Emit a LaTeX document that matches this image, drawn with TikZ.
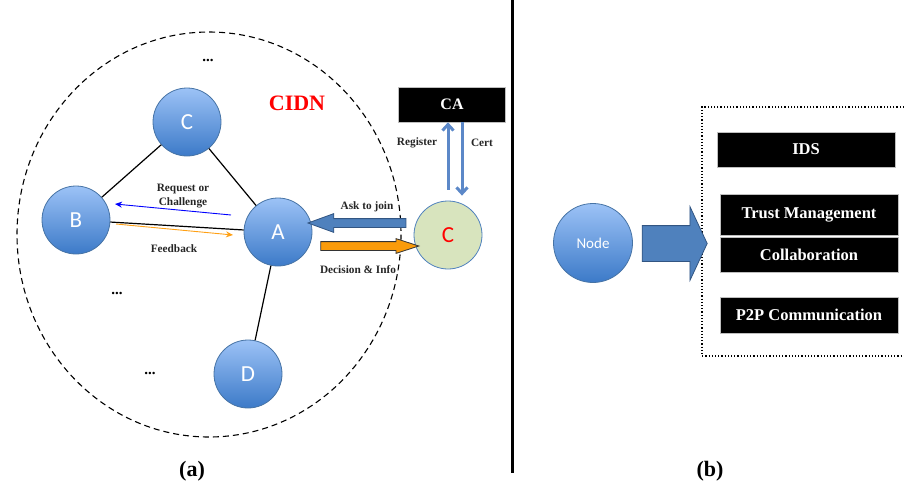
\documentclass[tikz,border=0pt]{standalone}
\usepackage{fontspec}
\setmainfont{Liberation Serif}
\newfontfamily\calibri{Carlito}
\usepackage{tikz}
\usetikzlibrary{shapes.arrows, arrows.meta, positioning, calc}
\definecolor{nodetop}{RGB}{156,194,246}
\definecolor{nodebot}{RGB}{60,122,200}
\definecolor{nodeedge}{RGB}{70,115,165}
\definecolor{joinfill}{RGB}{79,129,189}
\definecolor{joinedge}{RGB}{50,85,130}
\definecolor{infofill}{RGB}{250,155,10}
\definecolor{newfill}{RGB}{216,228,190}
\definecolor{caline}{RGB}{92,136,200}
\definecolor{fbline}{RGB}{255,160,20}
\tikzset{
  peer/.style={circle, minimum size=68pt, inner sep=0pt, draw=nodeedge,
    line width=0.8pt, top color=nodetop, bottom color=nodebot,
    text=white, font=\calibri\fontsize{23}{23}\selectfont},
  newpeer/.style={circle, minimum size=68pt, inner sep=0pt, draw=joinfill,
    line width=0.8pt, fill=newfill, text=red,
    font=\calibri\fontsize{23}{23}\selectfont},
  blackbox/.style={rectangle, fill=black, draw=gray!50, line width=0.6pt,
    text=white, font=\fontsize{16.5}{16.5}\selectfont\bfseries,
    minimum width=178pt, inner sep=0pt},
  lbl/.style={font=\fontsize{11.3}{14}\selectfont\bfseries, align=center,
    text=black!85},
  dots/.style={font=\fontsize{15}{15}\selectfont\bfseries},
  link/.style={line width=1.2pt},
  reqarrow/.style={-{Stealth[length=7pt,width=6pt]}, blue, line width=0.9pt},
  fbarrow/.style={-{Stealth[length=7pt,width=6pt]}, fbline, line width=0.9pt},
  caarrow/.style={-{Straight Barb[length=6pt,width=11pt]}, caline, line width=3pt},
  blockarrow/.style={single arrow, inner xsep=0pt, minimum width=0pt,
    single arrow head indent=0pt, line width=0.8pt}
}
\begin{document}
\begin{tikzpicture}[x=1pt, y=-1pt]
  \useasboundingbox (0,0) rectangle (904,488);

  % CIDN boundary
  \draw[line width=1.1pt, dash pattern=on 6pt off 4pt] (209,234.5) ellipse [x radius=192, y radius=202.5];
  \node[font=\fontsize{22}{22}\selectfont\bfseries, text=red] (cidn) at (297,103) {CIDN};

  % Peers inside the CIDN
  \node[peer] (C) at (187,122) {C};
  \node[peer] (B) at (76,220) {B};
  \node[peer] (A) at (278,232) {A};
  \node[peer] (D) at (248,374) {D};
  \node[dots] (dtop) at (208,60) {...};
  \node[dots] (dleft) at (117,293) {...};
  \node[dots] (dbot) at (150,373) {...};

  \draw[link] (C) -- (B);
  \draw[link] (C) -- (A);
  \draw[link] (B) -- (A);
  \draw[link] (A) -- (D);

  % Request and feedback between A and B
  \draw[reqarrow] ($(A)+(-47,-17)$) -- ($(B)+(39,-16)$);
  \draw[fbarrow] ($(B)+(40,4)$) -- ($(A)+(-45,3)$);
  \node[lbl] (reqlbl) at (183,196) {Request or\\Challenge};
  \node[lbl] (fblbl) at (174,249) {Feedback};

  % New node asking to join
  \node[newpeer] (N) at (448,235) {C};
  \node[blockarrow, shape border rotate=180, fill=joinfill, draw=joinedge,
    inner ysep=4pt, single arrow head extend=5pt, single arrow tip angle=40,
    minimum height=98pt] (ask) at ($(A)!0.5!(N)+(0,-10.5)$) {};
  \node[blockarrow, fill=infofill, draw=black!80,
    inner ysep=4pt, single arrow head extend=3pt, single arrow tip angle=36,
    minimum height=98pt] (info) at ($(A)!0.5!(N)+(0,12.5)$) {};
  \node[lbl] (asklbl) at (367,207) {Ask to join};
  \node[lbl] (infolbl) at (358,270) {Decision \& Info};

  % Certificate authority
  \node[blackbox, minimum width=107pt, minimum height=35pt,
    font=\fontsize{16}{16}\selectfont\bfseries] (CA) at (452,104.5) {CA};
  \draw[caarrow] ($(N.north)+(0,-11)$) coordinate (reg) -- (reg |- CA.south);
  \draw[caarrow] ($(CA.south)+(10,0)$) coordinate (crt) -- (crt |- {$(N.north)+(0,-5)$});
  \node[lbl] (reglbl) at (417,143) {Register};
  \node[lbl] (crtlbl) at (482,143) {Cert};

  % Divider
  \draw[line width=3pt] (512,0) coordinate (divtop) -- (512,473) coordinate (divbot);

  % Node and its components
  \node[peer, minimum size=79pt, font=\calibri\fontsize{15}{15}\selectfont] (node) at (593,243) {Node};
  \draw[line width=1.2pt, dotted] (904,107) -- (702,107) -- (702,356) -- (904,356);
  \node[blockarrow, fill=joinfill, draw=joinedge, inner ysep=17.5pt,
    single arrow head extend=19pt, single arrow tip angle=130,
    minimum height=65pt] (into) at (670.5,243.5) {};
  \node[blackbox, minimum height=35pt] (ids) at (806,149.5) {IDS};
  \node[blackbox, minimum height=41pt] (trust) at (809,214.5) {Trust Management};
  \node[blackbox, minimum height=35pt] (collab) at (809,254.5) {Collaboration};
  \node[blackbox, minimum height=36pt] (p2p) at (809,315) {P2P Communication};

  % Captions
  \node[font=\fontsize{22}{22}\selectfont\bfseries] (capa) at (192,471) {(a)};
  \node[font=\fontsize{22}{22}\selectfont\bfseries] (capb) at (710,471) {(b)};
\end{tikzpicture}
\end{document}
